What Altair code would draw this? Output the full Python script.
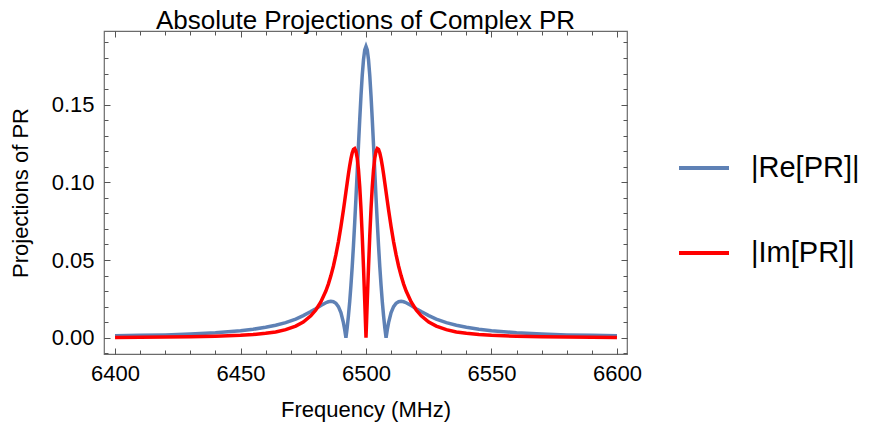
import altair as alt
import pandas as pd

# ---------------- data ----------------
freq = [6400, 6410, 6420, 6430, 6440, 6450, 6455, 6460, 6464, 6468, 6472, 6475,
        6478, 6480, 6482, 6484, 6485, 6486, 6487, 6488, 6489, 6490, 6491, 6491.5,
        6492, 6492.5, 6493, 6493.5, 6494, 6494.5, 6495, 6495.5, 6496, 6496.5, 6497,
        6497.5, 6498, 6498.5, 6499, 6499.5, 6500,
        6500.5, 6501, 6501.5, 6502, 6502.5, 6503, 6503.5, 6504, 6504.5, 6505,
        6505.5, 6506, 6506.5, 6507, 6507.5, 6508, 6508.5, 6509, 6510, 6511, 6512,
        6513, 6514, 6515, 6516, 6518, 6520, 6522, 6525, 6528, 6532, 6536, 6540,
        6545, 6550, 6560, 6570, 6580, 6590, 6600]

re_vals = [0.0012, 0.0015, 0.0018, 0.0024, 0.0032, 0.0045, 0.0054, 0.0067, 0.0080,
           0.0097, 0.0120, 0.0142, 0.0168, 0.0187, 0.0207, 0.0225, 0.0231, 0.0234,
           0.0232, 0.0222, 0.0200, 0.0161, 0.0097, 0.0053, 0.0000, 0.0064, 0.0141,
           0.0231, 0.0336, 0.0456, 0.0591, 0.0740, 0.0900, 0.1068, 0.1239, 0.1404,
           0.1557, 0.1688, 0.1789, 0.1853, 0.1875,
           0.1853, 0.1789, 0.1688, 0.1557, 0.1404, 0.1239, 0.1068, 0.0900, 0.0740,
           0.0591, 0.0456, 0.0336, 0.0231, 0.0141, 0.0064, 0.0000, 0.0053, 0.0097,
           0.0161, 0.0200, 0.0222, 0.0232, 0.0234, 0.0231, 0.0225, 0.0207, 0.0187,
           0.0168, 0.0142, 0.0120, 0.0097, 0.0080, 0.0067, 0.0054, 0.0045, 0.0032,
           0.0024, 0.0018, 0.0015, 0.0012]

im_vals = [0.0002, 0.0003, 0.0004, 0.0006, 0.0009, 0.0015, 0.0020, 0.0028, 0.0037,
           0.0052, 0.0075, 0.0101, 0.0141, 0.0178, 0.0230, 0.0300, 0.0345, 0.0398,
           0.0460, 0.0533, 0.0617, 0.0714, 0.0822, 0.0879, 0.0938, 0.0996, 0.1053,
           0.1106, 0.1152, 0.1189, 0.1212, 0.1217, 0.1200, 0.1156, 0.1081, 0.0973,
           0.0830, 0.0656, 0.0454, 0.0233, 0.0000,
           0.0233, 0.0454, 0.0656, 0.0830, 0.0973, 0.1081, 0.1156, 0.1200, 0.1217,
           0.1212, 0.1189, 0.1152, 0.1106, 0.1053, 0.0996, 0.0938, 0.0879, 0.0822,
           0.0714, 0.0617, 0.0533, 0.0460, 0.0398, 0.0345, 0.0300, 0.0230, 0.0178,
           0.0141, 0.0101, 0.0075, 0.0052, 0.0037, 0.0028, 0.0020, 0.0015, 0.0009,
           0.0006, 0.0004, 0.0003, 0.0002]

series_names = ["|Re[PR]|", "|Im[PR]|"]
series_colors = ["#5E81B5", "#FF0000"]

x_major = [6400, 6450, 6500, 6550, 6600]
x_minor = [6400, 6410, 6420, 6430, 6440, 6450, 6460, 6470, 6480, 6490, 6500,
           6510, 6520, 6530, 6540, 6550, 6560, 6570, 6580, 6590, 6600]
y_major = [0.0, 0.05, 0.10, 0.15]
y_minor = [-0.01, 0.0, 0.01, 0.02, 0.03, 0.04, 0.05, 0.06, 0.07, 0.08, 0.09,
           0.10, 0.11, 0.12, 0.13, 0.14, 0.15, 0.16, 0.17, 0.18, 0.19]
x_domain = [6395.6, 6604.0]
y_domain = [-0.0105, 0.1974]

title_text = "Absolute Projections of Complex PR"
x_title = "Frequency (MHz)"
y_title = "Projections of PR"

# ---------------- build table ----------------
rows = []
for f, v in zip(freq, re_vals):
    rows.append({"freq": f, "value": v, "series": series_names[0]})
for f, v in zip(freq, im_vals):
    rows.append({"freq": f, "value": v, "series": series_names[1]})
df = pd.DataFrame(rows)

FONT = "Liberation Sans"
TICK = "#555555"
FRAME = "#6b6b6b"

xs = alt.Scale(domain=x_domain, nice=False, zero=False)
ys = alt.Scale(domain=y_domain, nice=False, zero=False)

color = alt.Color(
    "series:N",
    scale=alt.Scale(domain=series_names, range=series_colors),
    legend=alt.Legend(
        title=None, orient="none", legendX=573, legendY=110,
        symbolType="stroke", symbolSize=2500, symbolStrokeWidth=4,
        labelFontSize=29, labelFont=FONT, labelColor="black",
        labelOffset=20, rowPadding=43, padding=0, labelLimit=400,
    ),
)

main_x = alt.Axis(
    orient="bottom", values=x_major, format="d", tickSize=6, offset=-6,
    domain=False, grid=False, tickColor=TICK, tickWidth=1,
    labelFont=FONT, labelFontSize=22, labelColor="black", labelPadding=9,
    title=x_title, titleFont=FONT, titleFontSize=22, titleFontWeight="normal",
    titleColor="black", titlePadding=15,
)
main_y = alt.Axis(
    orient="left", values=y_major, format=".2f", tickSize=6, offset=-6,
    domain=False, grid=False, tickColor=TICK, tickWidth=1,
    labelFont=FONT, labelFontSize=22, labelColor="black", labelPadding=10,
    title=y_title, titleFont=FONT, titleFontSize=22, titleFontWeight="normal",
    titleColor="black", titlePadding=19,
)


def tick_axis(orient, values, size):
    return alt.Axis(orient=orient, values=values, tickSize=size, offset=-size,
                    labels=False, domain=False, grid=False, title=None,
                    tickColor=TICK, tickWidth=1)


base = alt.Chart(df)

blue = base.transform_filter(alt.datum.series == series_names[0]).mark_line(
    strokeWidth=3.5
).encode(
    x=alt.X("freq:Q", scale=xs, axis=main_x),
    y=alt.Y("value:Q", scale=ys, axis=main_y),
    color=color,
)

red = base.transform_filter(alt.datum.series == series_names[1]).mark_line(
    strokeWidth=3.5
).encode(
    x=alt.X("freq:Q", scale=xs, axis=tick_axis("bottom", x_minor, 4)),
    y=alt.Y("value:Q", scale=ys, axis=tick_axis("left", y_minor, 4)),
    color=color,
)

top_major = base.mark_point(opacity=0).encode(
    x=alt.X("freq:Q", scale=xs, axis=tick_axis("top", x_major, 6)),
    y=alt.Y("value:Q", scale=ys, axis=tick_axis("right", y_major, 6)),
)

top_minor = base.mark_point(opacity=0).encode(
    x=alt.X("freq:Q", scale=xs, axis=tick_axis("top", x_minor, 4)),
    y=alt.Y("value:Q", scale=ys, axis=tick_axis("right", y_minor, 4)),
)

chart = alt.layer(blue, red, top_major, top_minor).resolve_axis(
    x="independent", y="independent"
).properties(
    width=523, height=323,
    title=alt.Title(title_text, font=FONT, fontSize=26, fontWeight="normal",
                    color="black", anchor="middle", frame="group",
                    baseline="alphabetic", offset=4, dy=28.5),
    autosize=alt.AutoSizeParams(type="none"),
    padding={"left": 96, "top": 23, "right": 236, "bottom": 71},
).configure_view(stroke=FRAME, strokeWidth=1.2)

chart.save("out.html", embed_options={"renderer": "svg", "actions": False})
